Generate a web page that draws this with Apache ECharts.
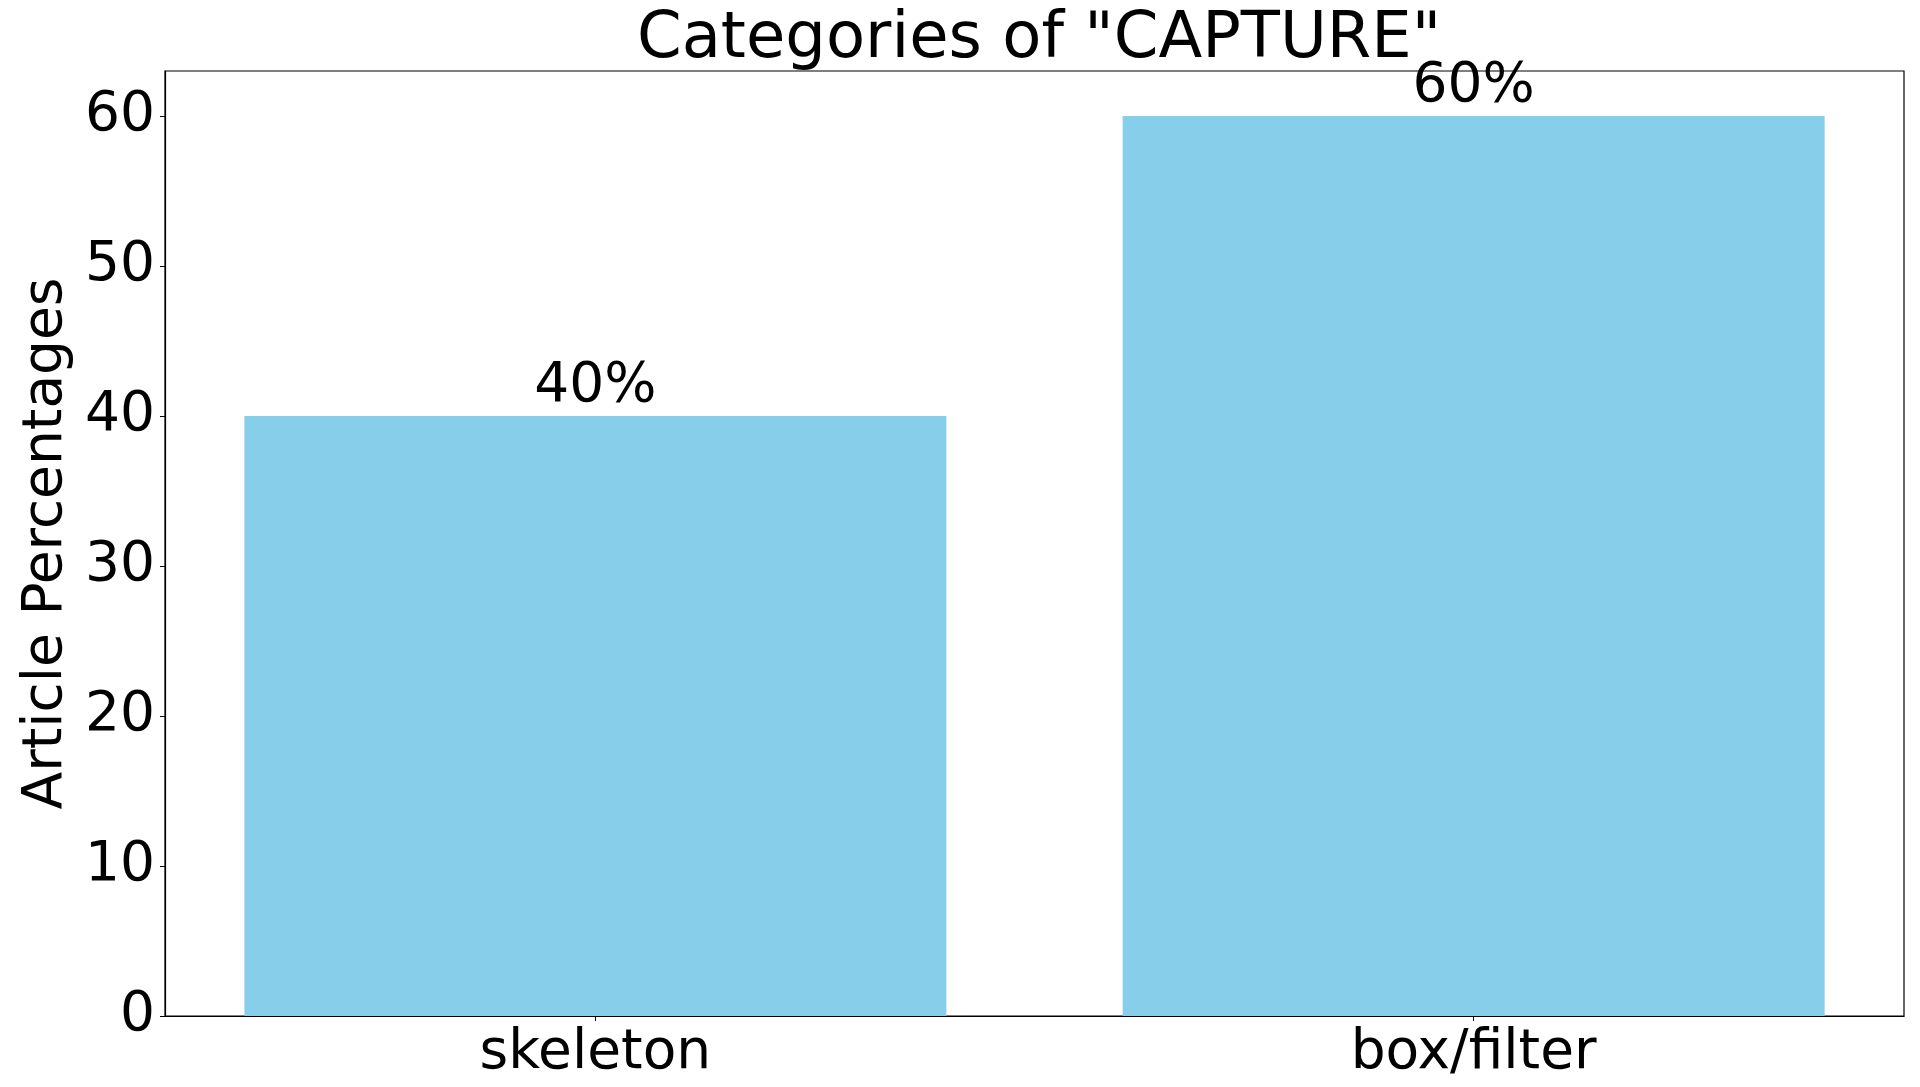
<!DOCTYPE html>
<html>
<head>
<meta charset="utf-8">
<script src="https://cdn.jsdelivr.net/npm/echarts@6/dist/echarts.min.js"></script>
<style>
  html, body { margin: 0; padding: 0; background: #fff; }
  #chart { width: 1920px; height: 1087px; }
</style>
</head>
<body>
<div id="chart"></div>
<script>
  // data
  const categories = ['skeleton', 'box/filter'];
  const percentages = [40, 60];
  const yTicks = [0, 10, 20, 30, 40, 50, 60];

  const font = 'DejaVu Sans';
  const chart = echarts.init(document.getElementById('chart'));

  // bars sit at positions 0..n-1 like matplotlib, with its 5% margins
  const catPos = categories.map((c, i) => i);
  const barData = percentages.map((v, i) => [catPos[i], v]);

  const option = {
    animation: false,
    textStyle: { fontFamily: font, color: '#000' },
    title: {
      text: 'Categories of "CAPTURE"',
      left: 1034,        // centred over the plot area, not the page
      textAlign: 'center',
      top: 3,
      textStyle: { fontFamily: font, fontSize: 64, fontWeight: 'normal', color: '#000' }
    },
    grid: {
      left: 165, right: 16, top: 71, bottom: 71,
      outerBoundsMode: 'none',
      containLabel: false,
      show: true, borderColor: '#000', borderWidth: 1.2
    },
    xAxis: {
      type: 'value',
      min: -0.49,
      max: 1.49,
      splitLine: { show: false },
      axisLine: { show: true, onZero: false, lineStyle: { color: '#000', width: 1.2 } },
      axisTick: { show: true, customValues: catPos, length: 5, lineStyle: { color: '#000' } },
      axisLabel: {
        customValues: catPos,
        formatter: v => categories[Math.round(v)],
        fontFamily: font, fontSize: 55, color: '#000', margin: 10
      }
    },
    yAxis: {
      type: 'value',
      min: yTicks[0],
      max: 63,
      interval: 10,
      name: 'Article Percentages',
      nameLocation: 'middle',
      nameGap: 88,
      nameTextStyle: { fontFamily: font, fontSize: 55, color: '#000' },
      splitLine: { show: false },
      axisLine: { show: true, onZero: false, lineStyle: { color: '#000', width: 1.2 } },
      axisTick: { show: true, length: 5, lineStyle: { color: '#000' } },
      axisLabel: {
        fontFamily: font, fontSize: 55, color: '#000', margin: 10,
        showMaxLabel: false
      }
    },
    series: [{
      type: 'bar',
      data: barData,
      barWidth: 702,
      itemStyle: { color: '#87CEEB' },
      label: {
        show: true,
        position: 'top',
        distance: 2,
        formatter: p => p.value[1] + '%',
        fontFamily: font, fontSize: 55, color: '#000'
      }
    }]
  };

  chart.setOption(option);
</script>
</body>
</html>
